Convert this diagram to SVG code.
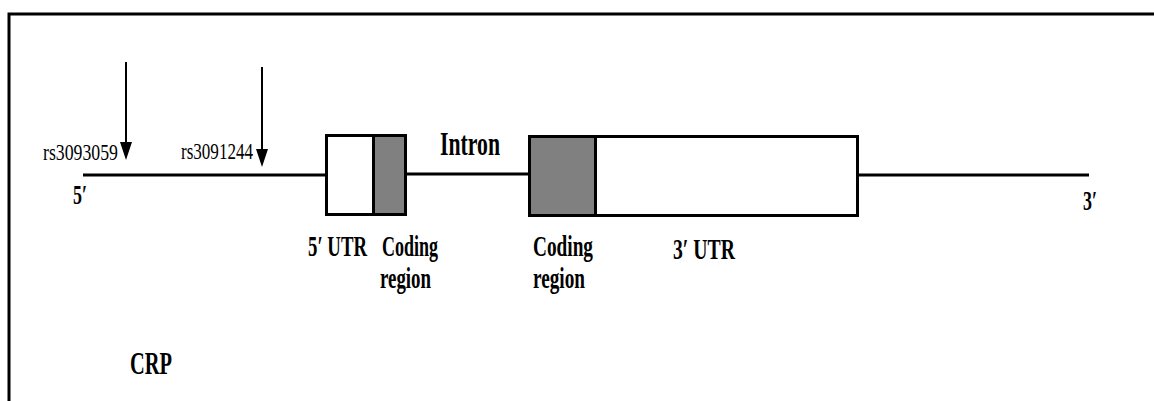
<svg xmlns="http://www.w3.org/2000/svg" width="1154" height="401" viewBox="0 0 1154 401">
  <defs>
    <style>
      .line { stroke: #000; stroke-width: 3; fill: none; }
      .shaft { stroke: #000; stroke-width: 2; fill: none; }
      .box { stroke: #000; stroke-width: 3; }
      .utr { fill: #fff; }
      .cds { fill: #808080; }
      .lbl { font-family: "Liberation Serif", "Times New Roman", serif; font-weight: bold; fill: #000; }
      .snp { font-family: "Liberation Serif", "Times New Roman", serif; font-size: 24px; fill: #000; }
    </style>
  </defs>
  <rect width="1154" height="401" fill="#fff"/>

  <!-- figure frame -->
  <path class="line" d="M9,401 L9,14 L1154,14"/>

  <!-- gene backbone -->
  <g id="connectors">
    <path class="line" d="M83,175 L327,175"/>
    <path class="line" d="M405,174 L530,174"/>
    <path class="line" d="M857,175 L1089,175"/>
  </g>

  <!-- exon 1: 5' UTR + coding -->
  <g id="exon1">
    <rect class="box utr" x="326.5" y="135.5" width="47" height="79"/>
    <rect class="box cds" x="373.5" y="135.5" width="32" height="79"/>
  </g>

  <!-- exon 2: coding + 3' UTR -->
  <g id="exon2">
    <rect class="box cds" x="529.5" y="136.5" width="66" height="79"/>
    <rect class="box utr" x="595.5" y="136.5" width="262" height="79"/>
  </g>

  <!-- SNP markers -->
  <g id="snp1">
    <line class="shaft" x1="126" y1="62" x2="126" y2="142"/>
    <path d="M120,142 L132,142 L126,160 Z" fill="#000"/>
    <text class="snp" x="43" y="160" textLength="75" lengthAdjust="spacingAndGlyphs">rs3093059</text>
  </g>
  <g id="snp2">
    <line class="shaft" x1="262" y1="67" x2="262" y2="149"/>
    <path d="M256,149 L268,149 L262,167 Z" fill="#000"/>
    <text class="snp" x="181" y="159" textLength="72" lengthAdjust="spacingAndGlyphs">rs3091244</text>
  </g>

  <!-- labels -->
  <g id="labels">
    <text class="lbl" x="73" y="204" font-size="27" textLength="14" lengthAdjust="spacingAndGlyphs">5′</text>
    <text class="lbl" x="1083" y="210" font-size="27" textLength="14" lengthAdjust="spacingAndGlyphs">3′</text>
    <text class="lbl" x="440" y="155" font-size="33" textLength="60" lengthAdjust="spacingAndGlyphs">Intron</text>
    <text class="lbl" x="308" y="256" font-size="30" textLength="59" lengthAdjust="spacingAndGlyphs">5′ UTR</text>
    <text class="lbl" x="382" y="256" font-size="30" textLength="56" lengthAdjust="spacingAndGlyphs">Coding</text>
    <text class="lbl" x="380" y="288" font-size="30" textLength="51" lengthAdjust="spacingAndGlyphs">region</text>
    <text class="lbl" x="533" y="256" font-size="30" textLength="60" lengthAdjust="spacingAndGlyphs">Coding</text>
    <text class="lbl" x="533" y="288" font-size="30" textLength="52" lengthAdjust="spacingAndGlyphs">region</text>
    <text class="lbl" x="673" y="259" font-size="30" textLength="62" lengthAdjust="spacingAndGlyphs">3′ UTR</text>
    <text class="lbl" x="130" y="374" font-size="31" textLength="42" lengthAdjust="spacingAndGlyphs">CRP</text>
  </g>
</svg>
